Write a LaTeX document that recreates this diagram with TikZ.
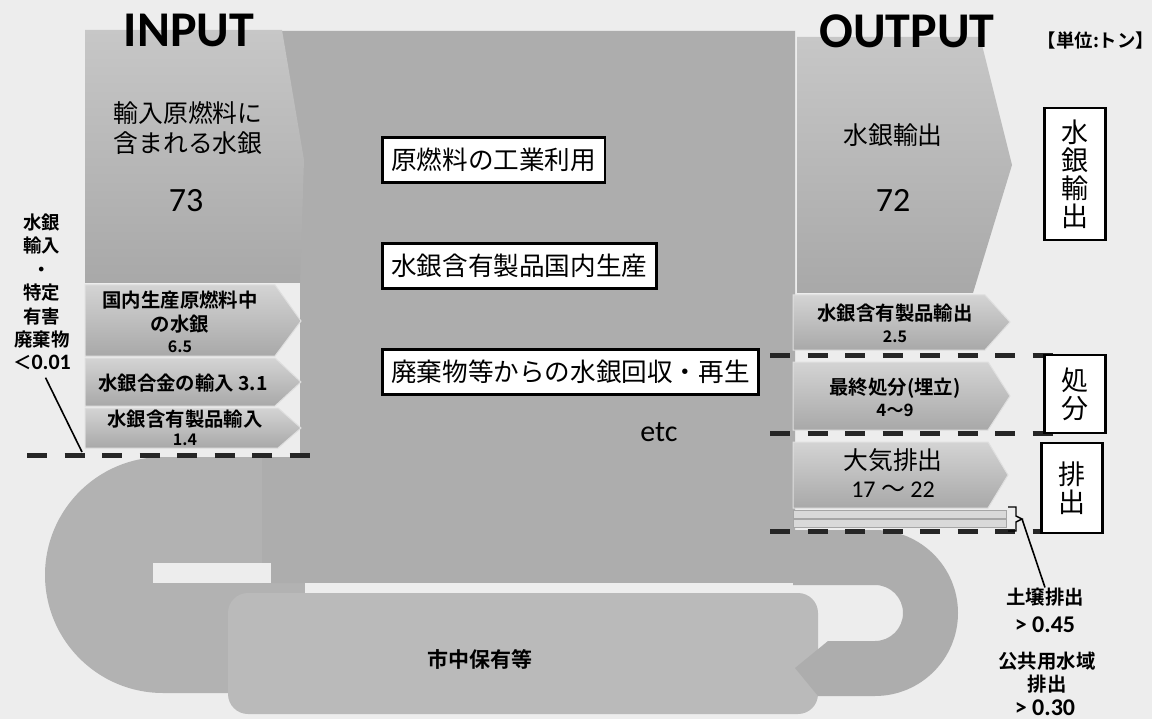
\documentclass[tikz,border=0pt]{standalone}
\usepackage{fontspec}
\setmainfont{Carlito}
\newfontfamily\jp{Noto Sans CJK JP}[BoldFont={Noto Sans CJK JP Bold}]
\usetikzlibrary{positioning}
\definecolor{bgpaper}{gray}{0.93}
\definecolor{midblk}{gray}{0.68}
\definecolor{loopblk}{gray}{0.70}
\definecolor{stockblk}{gray}{0.73}
\definecolor{bigtop}{gray}{0.78}
\definecolor{bigbot}{gray}{0.66}
\definecolor{litetop}{gray}{0.83}
\definecolor{litebot}{gray}{0.66}
\definecolor{dashcol}{gray}{0.15}

\begin{document}
\begin{tikzpicture}[x=0.5pt, y=0.5pt, every node/.style={inner sep=0pt}]
\tikzset{flow/.style={top color=litetop, bottom color=litebot, draw=white!75!gray, line width=0.5pt},
  bigflow/.style={top color=bigtop, bottom color=bigbot},
  lbl/.style={font=\jp\bfseries\fontsize{9.7}{12}\selectfont, align=center},
  numlbl/.style={font=\jp\bfseries\fontsize{8}{9}\selectfont},
  biglbl/.style={font=\jp\fontsize{12.4}{15}\selectfont, align=center},
  bignum/.style={font=\fontsize{17}{17}\selectfont},
  title/.style={font=\bfseries\fontsize{25}{25}\selectfont},
  procbox/.style={draw, line width=1.3pt, fill=white, inner xsep=4.5pt, minimum height=22.5pt, anchor=west, font=\jp\fontsize{12.8}{14}\selectfont},
  tagbox/.style={draw, line width=1.4pt, fill=white, align=center, minimum width=30.5pt, font=\jp\fontsize{13.5}{14}\selectfont},
  sepline/.style={draw=dashcol, line width=2.5pt, dash pattern=on 10pt off 8.75pt}}
\useasboundingbox (0,0) rectangle (1152,719);
\fill[bgpaper] (0,0) rectangle (1152,719);
% stock loop and stock
\fill[loopblk] (320,262) -- (163,262) arc[start angle=90, end angle=270, radius=118] -- (320,26) -- cycle;
\fill[stockblk, rounded corners=10pt] (228,5) rectangle (818,126);
% processes
\fill[midblk] (280,688) -- (795,688) -- (795,136) -- (262,136) -- (262,262) -- (300,262) -- (300,560) -- cycle;
\fill[bgpaper] (153,136) rectangle (271,156);
\fill[bgpaper] (305,126) rectangle (818,136);
\fill[midblk] (793,189) -- (875,189) arc[start angle=90, end angle=-90, radius=83] -- (818,23) -- (795,51) -- (828,78) -- (875,78) arc[start angle=-90, end angle=90, radius=28] -- (793,134) -- cycle;
% input
\shade[bigflow] (85,689) -- (282,689) -- (304,559) -- (300,436) -- (85,436) -- cycle;
\shade[flow] (85,434) -- (275,434) -- (301,398) -- (275,363) -- (85,363) -- cycle;
\shade[flow] (85,361) -- (275,361) -- (301,337) -- (275,313) -- (85,313) -- cycle;
\shade[flow] (85,311) -- (278,311) -- (301,291) -- (278,271) -- (85,271) -- cycle;
% output
\shade[bigflow] (797,682) -- (980,682) -- (1012,554) -- (973,426) -- (797,426) -- cycle;
\shade[flow] (793,424) -- (985,424) -- (1010,397) -- (985,369) -- (793,369) -- cycle;
\shade[flow] (793,357) -- (988,357) -- (1010,323) -- (988,289) -- (793,289) -- cycle;
\shade[flow] (793,277) -- (988,277) -- (1008,244) -- (988,211) -- (793,211) -- cycle;
\fill[gray!30, draw=gray!70, line width=0.4pt] (793,201) rectangle (1006,209);
\fill[gray!30, draw=gray!70, line width=0.4pt] (793,192) rectangle (1006,200);
\draw[sepline] (27,264) -- (313,264);
\draw[sepline] (770,364) -- (1053,364);
\draw[sepline] (770,286) -- (1053,286);
\draw[sepline] (770,188) -- (1053,188);

\node[title] (intitle) at (189,689) {INPUT};
\node[title] (outtitle) at (907,688) {OUTPUT};
\node[font=\jp\bfseries\fontsize{9.2}{10}\selectfont] (unit) at (1096,679) {【単位:トン】};

\node[biglbl] (rawlbl) at (188,591) {輸入原燃料に\\含まれる水銀};
\node[bignum] (rawval) at (186,518) {73};
\node[lbl] (domlbl) at (180,407) {国内生産原燃料中\\の水銀};
\node[numlbl] (domval) at (180,372) {6.5};
\node[lbl] (alloylbl) at (183,336) {水銀合金の輸入 3.1};
\node[lbl] (prodinlbl) at (185,300) {水銀含有製品輸入};
\node[numlbl] (prodinval) at (185,279) {1.4};

\node[procbox] (useraw) at (381,559) {原燃料の工業利用};
\node[procbox] (makeprod) at (381,453) {水銀含有製品国内生産};
\node[procbox] (recover) at (381,347) {廃棄物等からの水銀回収・再生};
\node[font=\fontsize{15}{15}\selectfont] (etc) at (659,287) {etc};
\node[font=\jp\bfseries\fontsize{10.5}{12}\selectfont] (stock) at (480,60) {市中保有等};

\node[biglbl] (exportlbl) at (893,584) {水銀輸出};
\node[bignum] (exportval) at (893,519) {72};
\node[lbl] (prodoutlbl) at (895,406) {水銀含有製品輸出};
\node[numlbl] (prodoutval) at (895,382) {2.5};
\node[lbl] (landlbl) at (895,331) {最終処分(埋立)};
\node[font=\jp\bfseries\fontsize{8.5}{10}\selectfont] (landval) at (895,309) {4〜9};
\node[biglbl] (airlbl) at (893,259) {大気排出};
\node[font=\fontsize{12}{12}\selectfont] (airval) at (893,229) {17 {\jp 〜} 22};

\node[tagbox, minimum height=66pt] (tagexport) at (1075,545) {水\\銀\\輸\\出};
\node[tagbox, minimum height=39pt] (tagland) at (1075,325) {処\\分};
\node[tagbox, minimum height=45pt] (tagemit) at (1072,231) {排\\出};

\node[font=\jp\bfseries\fontsize{9.2}{11.7}\selectfont, align=center] (imp) at (42,427)
  {水銀\\輸入\\・\\特定\\有害\\廃棄物\\＜{\fontsize{11}{11}\selectfont\rmfamily\bfseries 0.01}};
\coordinate (impend) at (82,267);
\draw[line width=0.8pt, shorten <=4pt] (imp.south) -- (impend);

\node[lbl] (soil) at (1045,122) {土壌排出};
\node[font=\bfseries\fontsize{12}{12}\selectfont] (soilval) at (1045,94) {> 0.45};
\node[lbl, font=\jp\bfseries\fontsize{9.7}{11.5}\selectfont] (water) at (1047,46) {公共用水域\\排出};
\node[font=\bfseries\fontsize{12}{12}\selectfont] (waterval) at (1045,11) {> 0.30};
\draw[line width=0.7pt] (1008,212) -- (1016,212) -- (1016,203) -- (1022,200) coordinate (brace) -- (1016,197) -- (1016,188) -- (1008,188);
\draw[line width=0.8pt] (brace) -- (soil.north);
\end{tikzpicture}
\end{document}
